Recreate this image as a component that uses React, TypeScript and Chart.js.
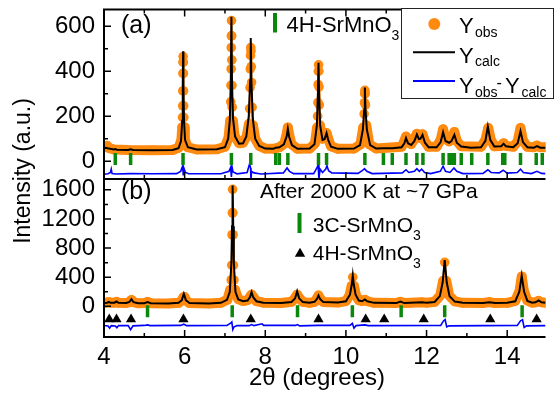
import { useEffect, useRef } from 'react';
import { Chart, registerables } from 'chart.js';

Chart.register(...registerables);

const FONT = "'Liberation Sans', Arial, Helvetica, sans-serif";
const ORANGE = '#ff8a10';
const GREEN = '#0b870b';
const BLUE = '#0000ff';

// ---------- axes ----------
const xRange = [4, 14.95];
const xMajorTicks = [4, 6, 8, 10, 12, 14];
const xMinorTicks = [5, 7, 9, 11, 13];
const yRangeA = [-79, 674];
const yMajorA = [0, 200, 400, 600];
const yMinorA = [100, 300, 500];
const yRangeB = [-421, 1749];
const yMajorB = [0, 400, 800, 1200, 1600];
const yMinorB = [200, 600, 1000, 1400];

// ---------- panel (a): 4H-SrMnO3 ----------
const obsA: number[][] = [
  [4.0, 62], [4.04, 66], [4.08, 68], [4.13, 58], [4.25, 52], [4.6, 50], [5.2, 49], [5.7, 50], [5.85, 60], [5.92, 95],
  [5.94, 151], [5.948, 195], [5.952, 246], [5.955, 312], [5.958, 390], [5.961, 440], [5.963, 465], [5.966, 440], [5.969, 390],
  [5.972, 312], [5.976, 246], [5.98, 195], [5.987, 151], [6.005, 95], [6.08, 62], [6.3, 52], [6.8, 53], [7.0, 64], [7.09, 105],
  [7.13, 180], [7.143, 264], [7.149, 337], [7.153, 410], [7.156, 505], [7.159, 557], [7.162, 625], [7.166, 557], [7.17, 450],
  [7.174, 337], [7.18, 240], [7.195, 180], [7.24, 112], [7.35, 80], [7.45, 82], [7.54, 112], [7.595, 166], [7.612, 234],
  [7.622, 327], [7.628, 410], [7.634, 470], [7.64, 505], [7.646, 490], [7.652, 420], [7.66, 350], [7.672, 240], [7.695, 160],
  [7.75, 100], [7.85, 68], [8.0, 56], [8.2, 55], [8.35, 62], [8.47, 78], [8.53, 120], [8.56, 150], [8.59, 120], [8.65, 76],
  [8.8, 55], [9.1, 56], [9.23, 78], [9.285, 150], [9.298, 200], [9.305, 261], [9.311, 341], [9.317, 400], [9.322, 428],
  [9.327, 400], [9.333, 330], [9.34, 250], [9.355, 160], [9.41, 100], [9.47, 105], [9.52, 125], [9.56, 100], [9.63, 66],
  [9.8, 55], [10.2, 56], [10.36, 75], [10.43, 150], [10.452, 210], [10.46, 260], [10.466, 300], [10.471, 315], [10.477, 300],
  [10.484, 250], [10.505, 160], [10.58, 75], [10.75, 56], [11.38, 64], [11.45, 90], [11.49, 110], [11.54, 88], [11.62, 76],
  [11.7, 100], [11.76, 122], [11.82, 104], [11.85, 106], [11.9, 120], [11.96, 88], [12.05, 64], [12.25, 64], [12.35, 95],
  [12.41, 142], [12.47, 100], [12.56, 88], [12.63, 104], [12.69, 130], [12.75, 90], [12.86, 66], [13.35, 64], [13.46, 95],
  [13.53, 148], [13.59, 98], [13.68, 66], [13.85, 68], [13.91, 80], [13.97, 68], [14.15, 64], [14.26, 88], [14.33, 148],
  [14.39, 92], [14.5, 64], [14.66, 62], [14.74, 70], [14.82, 62], [14.95, 62],
];

const calcA: number[][] = [
  [4.0, 58], [4.05, 60], [4.12, 56], [4.25, 52], [4.28, 54], [4.32, 51], [4.6, 50], [4.66, 53], [4.72, 50], [5.2, 49],
  [5.7, 50], [5.85, 58], [5.91, 90], [5.94, 180], [5.955, 330], [5.962, 488], [5.97, 330], [5.985, 180], [6.01, 95], [6.08, 62],
  [6.3, 52], [6.8, 53], [7.0, 62], [7.08, 100], [7.12, 180], [7.145, 350], [7.16, 642], [7.175, 350], [7.2, 190], [7.25, 110],
  [7.35, 78], [7.45, 80], [7.53, 110], [7.59, 200], [7.625, 360], [7.64, 547], [7.655, 360], [7.69, 190], [7.75, 100],
  [7.85, 68], [8.0, 56], [8.2, 55], [8.26, 60], [8.35, 62], [8.46, 75], [8.53, 110], [8.56, 144], [8.59, 110], [8.66, 72],
  [8.8, 55], [9.1, 56], [9.22, 75], [9.28, 160], [9.305, 300], [9.32, 437], [9.335, 300], [9.36, 160], [9.42, 95], [9.47, 98],
  [9.52, 125], [9.56, 95], [9.63, 65], [9.8, 55], [10.2, 56], [10.35, 72], [10.42, 140], [10.455, 230], [10.47, 327],
  [10.485, 230], [10.52, 140], [10.6, 72], [10.75, 56], [10.93, 58], [11.15, 58], [11.38, 62], [11.45, 80], [11.49, 103],
  [11.54, 80], [11.62, 72], [11.7, 90], [11.76, 119], [11.81, 98], [11.85, 100], [11.9, 117], [11.96, 82], [12.05, 62],
  [12.25, 62], [12.35, 85], [12.41, 129], [12.47, 90], [12.56, 82], [12.62, 90], [12.69, 117], [12.75, 82], [12.86, 65],
  [13.1, 60], [13.35, 62], [13.46, 90], [13.52, 154], [13.58, 95], [13.68, 65], [13.85, 66], [13.91, 78], [13.97, 66],
  [14.15, 62], [14.26, 80], [14.33, 133], [14.39, 85], [14.5, 62], [14.66, 60], [14.74, 67], [14.82, 60], [14.95, 60],
];

const diffA: number[][] = [
  [4.0, -58], [4.1, -56], [4.16, -50], [4.18, -35], [4.2, -55], [4.3, -57], [4.66, -55], [5.2, -56], [5.8, -55], [5.9, -45],
  [5.95, -22], [5.965, -60], [5.98, -30], [6.02, -50], [6.1, -56], [6.9, -56], [7.1, -45], [7.14, -28], [7.16, -70],
  [7.175, -25], [7.2, -48], [7.3, -56], [7.55, -50], [7.61, -12], [7.635, -30], [7.645, -82], [7.66, -45], [7.72, -52],
  [7.9, -57], [8.45, -52], [8.54, -30], [8.6, -45], [8.7, -55], [9.2, -55], [9.28, -30], [9.31, -16], [9.33, -78], [9.36, -35],
  [9.42, -50], [9.5, -35], [9.53, -20], [9.57, -42], [9.65, -52], [10.3, -54], [10.42, -40], [10.46, -33], [10.52, -45],
  [10.65, -55], [11.4, -52], [11.49, -38], [11.56, -50], [11.7, -45], [11.76, -33], [11.82, -45], [11.88, -35], [11.95, -50],
  [12.1, -55], [12.34, -45], [12.41, -22], [12.47, -45], [12.58, -50], [12.68, -30], [12.75, -45], [12.9, -55], [13.4, -54],
  [13.52, -38], [13.6, -50], [13.8, -52], [13.9, -40], [14.0, -53], [14.25, -50], [14.33, -35], [14.4, -50], [14.6, -55],
  [14.74, -45], [14.85, -54], [14.95, -55],
];

const braggA = [4.28, 4.66, 5.96, 7.16, 7.64, 8.26, 8.35, 8.56, 9.32, 9.52, 10.47, 10.93, 11.15, 11.49, 11.76, 11.91,
  12.41, 12.56, 12.62, 12.69, 12.86, 13.12, 13.52, 13.89, 13.94, 14.33, 14.72, 14.87];
const braggRowA = 10;

// ---------- panel (b): after 2000 K at ~7 GPa ----------
const obsB: number[][] = [
  [4.0, 45], [4.08, 52], [4.12, 60], [4.16, 50], [4.26, 50], [4.31, 62], [4.36, 48], [4.55, 45], [4.63, 58], [4.68, 88],
  [4.73, 58], [4.85, 42], [5.0, 45], [5.08, 62], [5.16, 44], [5.6, 40], [5.85, 48], [5.93, 80], [5.97, 125], [6.0, 128],
  [6.04, 80], [6.12, 45], [6.6, 40], [6.9, 48], [7.06, 90], [7.13, 227], [7.155, 362], [7.168, 565], [7.176, 983],
  [7.183, 1284], [7.189, 1607], [7.195, 1284], [7.202, 983], [7.21, 565], [7.222, 362], [7.25, 227], [7.33, 100], [7.45, 72],
  [7.56, 85], [7.62, 130], [7.66, 162], [7.7, 130], [7.78, 72], [7.95, 50], [8.4, 45], [8.65, 62], [8.74, 115], [8.79, 160],
  [8.84, 115], [8.93, 62], [9.1, 48], [9.22, 62], [9.28, 105], [9.32, 150], [9.36, 105], [9.44, 60], [9.8, 52], [10.0, 72],
  [10.09, 150], [10.14, 280], [10.17, 400], [10.2, 280], [10.25, 150], [10.32, 85], [10.4, 72], [10.47, 90], [10.53, 70],
  [10.7, 48], [11.25, 45], [11.35, 62], [11.45, 45], [11.6, 48], [11.88, 55], [12.0, 50], [12.2, 62], [12.34, 150],
  [12.41, 350], [12.45, 605], [12.49, 350], [12.56, 150], [12.7, 68], [12.9, 48], [13.4, 45], [13.56, 58], [13.7, 45],
  [14.0, 48], [14.2, 75], [14.31, 220], [14.36, 410], [14.41, 220], [14.5, 80], [14.62, 50], [14.7, 55], [14.78, 75],
  [14.85, 55], [14.95, 50],
];

const calcB: number[][] = [
  [4.0, 45], [4.08, 50], [4.12, 62], [4.16, 48], [4.26, 50], [4.31, 66], [4.36, 48], [4.55, 45], [4.63, 60], [4.68, 98],
  [4.73, 58], [4.85, 42], [5.0, 42], [5.08, 58], [5.16, 42], [5.6, 40], [5.85, 48], [5.93, 85], [5.98, 172], [6.03, 85],
  [6.12, 45], [6.6, 40], [6.9, 48], [7.05, 90], [7.12, 200], [7.16, 600], [7.175, 1100], [7.19, 1658], [7.205, 1100],
  [7.22, 600], [7.26, 200], [7.33, 95], [7.45, 70], [7.56, 80], [7.62, 125], [7.66, 195], [7.7, 125], [7.78, 70], [7.95, 50],
  [8.4, 45], [8.65, 60], [8.74, 110], [8.79, 205], [8.84, 110], [8.93, 60], [9.1, 48], [9.22, 62], [9.28, 100], [9.32, 150],
  [9.36, 100], [9.44, 58], [9.8, 52], [10.0, 70], [10.1, 160], [10.145, 300], [10.17, 425], [10.195, 300], [10.24, 160],
  [10.32, 80], [10.4, 70], [10.47, 95], [10.53, 70], [10.7, 48], [11.25, 45], [11.35, 65], [11.45, 45], [11.6, 48],
  [11.88, 55], [12.0, 50], [12.2, 60], [12.33, 140], [12.4, 330], [12.45, 634], [12.5, 330], [12.57, 140], [12.7, 65],
  [12.9, 48], [13.4, 45], [13.56, 55], [13.7, 45], [14.0, 48], [14.2, 70], [14.3, 200], [14.36, 421], [14.42, 200],
  [14.5, 75], [14.62, 50], [14.7, 55], [14.78, 80], [14.85, 55], [14.95, 50],
];

const diffB: number[][] = [
  [4.0, -262], [4.1, -270], [4.14, -300], [4.18, -265], [4.28, -270], [4.32, -295], [4.36, -265], [4.6, -265], [4.66, -320],
  [4.72, -268], [5.0, -262], [5.08, -255], [5.14, -265], [5.9, -262], [5.98, -245], [6.05, -265], [7.05, -262], [7.13, -235],
  [7.17, -213], [7.195, -317], [7.22, -285], [7.3, -265], [7.6, -265], [7.66, -250], [7.72, -265], [7.92, -240], [7.96, -262],
  [8.75, -262], [8.8, -250], [8.85, -268], [9.3, -262], [10.1, -262], [10.16, -235], [10.2, -300], [10.25, -265],
  [10.47, -255], [10.55, -265], [12.35, -262], [12.42, -200], [12.46, -181], [12.5, -281], [12.56, -268], [14.25, -262],
  [14.33, -200], [14.38, -185], [14.42, -290], [14.48, -268], [14.95, -265],
];

const braggB = [5.08, 7.18, 8.8, 10.16, 11.37, 12.45, 14.37];
const braggRowB = -68;
const tri4H_B = [4.13, 4.31, 4.67, 5.97, 7.64, 9.32, 10.49, 10.95, 11.93, 13.58, 14.73];
const triRowB = -178;

const xy = (arr: number[][]) => arr.map(([x, y]) => ({ x, y }));
const row = (xs: number[], y: number) => xs.map((x) => ({ x, y }));

function drawAt(ctx: CanvasRenderingContext2D, s: string, size: number, x: number, y: number) {
  ctx.font = `${size}px ${FONT}`;
  ctx.fillText(s, x, y);
  return x + ctx.measureText(s).width;
}

const framePlugin = {
  id: 'frame',
  afterDatasetsDraw(chart: any) {
    const { ctx, chartArea: ca, scales } = chart;
    const x = scales.x, ya = scales.ya, yb = scales.yb;
    const sep = ya.bottom;
    ctx.save();
    ctx.strokeStyle = '#000';
    ctx.lineWidth = 2;
    ctx.beginPath();
    ctx.moveTo(ca.left, ca.top); ctx.lineTo(ca.right, ca.top);
    ctx.moveTo(ca.left, sep); ctx.lineTo(ca.right, sep);
    ctx.moveTo(ca.left, ca.bottom); ctx.lineTo(ca.right, ca.bottom);
    ctx.moveTo(ca.left, ca.top - 1); ctx.lineTo(ca.left, ca.bottom + 1);
    ctx.stroke();
    ctx.lineWidth = 1.5;
    ctx.beginPath();
    const xt = (vals: number[], len: number) => vals.forEach((v) => {
      const px = x.getPixelForValue(v);
      ctx.moveTo(px, ca.top); ctx.lineTo(px, ca.top + len);
      ctx.moveTo(px, sep); ctx.lineTo(px, sep - len);
      ctx.moveTo(px, ca.bottom); ctx.lineTo(px, ca.bottom - len);
    });
    xt(xMajorTicks, 7);
    xt(xMinorTicks, 4);
    const yt = (sc: any, vals: number[], len: number) => vals.forEach((v) => {
      const py = sc.getPixelForValue(v);
      ctx.moveTo(ca.left, py); ctx.lineTo(ca.left + len, py);
    });
    yt(ya, yMajorA, 7); yt(ya, yMinorA, 4);
    yt(yb, yMajorB, 7); yt(yb, yMinorB, 4);
    ctx.stroke();
    ctx.restore();
  },
  afterDraw(chart: any) {
    const { ctx } = chart;
    ctx.save();
    ctx.fillStyle = '#000';
    ctx.textAlign = 'left';
    ctx.textBaseline = 'alphabetic';

    // panel (a)
    drawAt(ctx, '(a)', 25, 121, 32.5);
    ctx.fillStyle = GREEN;
    ctx.fillRect(273, 13, 4, 19.5);
    ctx.fillStyle = '#000';
    let e = drawAt(ctx, '4H-SrMnO', 22, 286.5, 31.7);
    drawAt(ctx, '3', 14, e, 40);

    // legend box
    ctx.fillStyle = '#fff';
    ctx.fillRect(401.5, 8.5, 152, 90);
    ctx.strokeStyle = '#222';
    ctx.lineWidth = 1;
    ctx.strokeRect(401.5, 8.5, 152, 90);
    ctx.fillStyle = ORANGE;
    ctx.beginPath(); ctx.arc(434.3, 24, 6, 0, Math.PI * 2); ctx.fill();
    ctx.lineWidth = 2;
    ctx.strokeStyle = '#000';
    ctx.beginPath(); ctx.moveTo(413, 52.3); ctx.lineTo(455, 52.3); ctx.stroke();
    ctx.strokeStyle = BLUE;
    ctx.beginPath(); ctx.moveTo(413, 81); ctx.lineTo(455, 81); ctx.stroke();
    ctx.fillStyle = '#000';
    drawAt(ctx, 'Y', 22, 459, 32.7);
    drawAt(ctx, 'obs', 14, 475, 36.7);
    drawAt(ctx, 'Y', 22, 459, 63.3);
    drawAt(ctx, 'calc', 14, 475, 65.7);
    drawAt(ctx, 'Y', 22, 459, 93.3);
    drawAt(ctx, 'obs', 14, 475, 97);
    drawAt(ctx, '-', 16, 496.5, 88);
    drawAt(ctx, 'Y', 22, 505, 93.3);
    drawAt(ctx, 'calc', 14, 521.5, 97);

    // panel (b)
    drawAt(ctx, '(b)', 25, 121, 198.5);
    drawAt(ctx, 'After 2000 K at ~7 GPa', 21, 260, 198.3);
    ctx.fillStyle = GREEN;
    ctx.fillRect(297.5, 213, 4, 20);
    ctx.fillStyle = '#000';
    e = drawAt(ctx, '3C-SrMnO', 21, 312.7, 231.7);
    drawAt(ctx, '3', 14, e, 240);
    ctx.beginPath();
    ctx.moveTo(300, 247.8); ctx.lineTo(305.2, 256.8); ctx.lineTo(294.8, 256.8); ctx.closePath(); ctx.fill();
    e = drawAt(ctx, '4H-SrMnO', 21, 312.7, 259.5);
    drawAt(ctx, '3', 14, e, 268);

    // axis titles
    ctx.font = `23px ${FONT}`;
    ctx.textAlign = 'center';
    ctx.save();
    ctx.translate(30, 171);
    ctx.rotate(-Math.PI / 2);
    ctx.fillText('Intensity (a.u.)', 0, 0);
    ctx.restore();
    ctx.font = `24px ${FONT}`;
    ctx.fillText('2θ (degrees)', 317, 385);
    ctx.restore();
  },
};

export default function App() {
  const ref = useRef<HTMLCanvasElement>(null);
  useEffect(() => {
    document.body.style.margin = '0';
    const tickFont = { family: FONT, size: 24 };
    // the observed band is thick along the baseline; on steep peak flanks only the dots show
    const obsStyle = (thr: number) => ({
      borderColor: ORANGE, borderWidth: 10, borderJoinStyle: 'round', borderCapStyle: 'round',
      pointRadius: 4.8, pointBackgroundColor: ORANGE, pointBorderWidth: 0, tension: 0, order: 5, clip: 0,
      segment: { borderWidth: (c: any) => (Math.min(c.p0.parsed.y, c.p1.parsed.y) > thr ? 2 : 10) },
    });
    const calcStyle = { borderColor: '#000', borderWidth: 2, pointRadius: 0, tension: 0, order: 4, clip: 0 };
    const diffStyle = { borderColor: BLUE, borderWidth: 1.6, pointRadius: 0, tension: 0, order: 3, clip: 0 };
    const tickStyle = { showLine: false, pointStyle: 'line', rotation: 90, pointRadius: 6, pointBorderWidth: 3.5,
      pointBorderColor: GREEN, borderColor: GREEN, order: 2, clip: 0 };
    const chart = new Chart(ref.current as HTMLCanvasElement, {
      type: 'line',
      data: {
        datasets: [
          { label: 'Yobs (a)', data: xy(obsA), xAxisID: 'x', yAxisID: 'ya', ...obsStyle(140) } as any,
          { label: 'Ycalc (a)', data: xy(calcA), xAxisID: 'x', yAxisID: 'ya', ...calcStyle } as any,
          { label: 'Yobs-Ycalc (a)', data: xy(diffA), xAxisID: 'x', yAxisID: 'ya', ...diffStyle } as any,
          { label: '4H-SrMnO3 (a)', data: row(braggA, braggRowA), xAxisID: 'x', yAxisID: 'ya', ...tickStyle } as any,
          { label: 'Yobs (b)', data: xy(obsB), xAxisID: 'x', yAxisID: 'yb', ...obsStyle(220) } as any,
          { label: 'Ycalc (b)', data: xy(calcB), xAxisID: 'x', yAxisID: 'yb', ...calcStyle } as any,
          { label: 'Yobs-Ycalc (b)', data: xy(diffB), xAxisID: 'x', yAxisID: 'yb', ...diffStyle } as any,
          { label: '3C-SrMnO3 (b)', data: row(braggB, braggRowB), xAxisID: 'x', yAxisID: 'yb', ...tickStyle } as any,
          { label: '4H-SrMnO3 (b)', data: row(tri4H_B, triRowB), xAxisID: 'x', yAxisID: 'yb', showLine: false,
            pointStyle: 'triangle', pointRadius: 5.9, pointBorderWidth: 0, pointBackgroundColor: '#000',
            order: 1, clip: 0 } as any,
        ],
      },
      options: {
        responsive: false,
        animation: false,
        events: [],
        layout: { padding: { top: 6, left: 0, right: 0, bottom: 0 } },
        plugins: { legend: { display: false }, tooltip: { enabled: false }, title: { display: false } },
        scales: {
          x: {
            type: 'linear', position: 'bottom', min: xRange[0], max: xRange[1],
            grid: { display: false, drawTicks: false }, border: { display: false },
            ticks: { font: tickFont, color: '#000', padding: 6, maxRotation: 0, autoSkip: false, callback: (v: any) => String(v) },
            afterBuildTicks: (s: any) => { s.ticks = xMajorTicks.map((v) => ({ value: v })); },
            afterFit: (s: any) => { s.height = 61; s.paddingLeft = 0; s.paddingRight = 0; },
          },
          yb: {
            type: 'linear', position: 'left', stack: 'panels', stackWeight: 159.7, min: yRangeB[0], max: yRangeB[1],
            grid: { display: false, drawTicks: false }, border: { display: false },
            ticks: { font: tickFont, color: '#000', padding: 9, autoSkip: false, callback: (v: any) => String(v) },
            afterBuildTicks: (s: any) => { s.ticks = yMajorB.map((v) => ({ value: v })); },
            afterFit: (s: any) => { s.width = 104; s.paddingTop = 0; s.paddingBottom = 0; },
          },
          ya: {
            type: 'linear', position: 'left', stack: 'panels', stackWeight: 171.3, min: yRangeA[0], max: yRangeA[1],
            grid: { display: false, drawTicks: false }, border: { display: false },
            ticks: { font: tickFont, color: '#000', padding: 9, autoSkip: false, callback: (v: any) => String(v) },
            afterBuildTicks: (s: any) => { s.ticks = yMajorA.map((v) => ({ value: v })); },
            afterFit: (s: any) => { s.width = 104; s.paddingTop = 0; s.paddingBottom = 0; },
          },
        },
      } as any,
      plugins: [framePlugin],
    });
    return () => chart.destroy();
  }, []);
  return (
    <div style={{ width: 555, height: 398 }}>
      <canvas ref={ref} width={555} height={398} style={{ display: 'block' }} />
    </div>
  );
}
